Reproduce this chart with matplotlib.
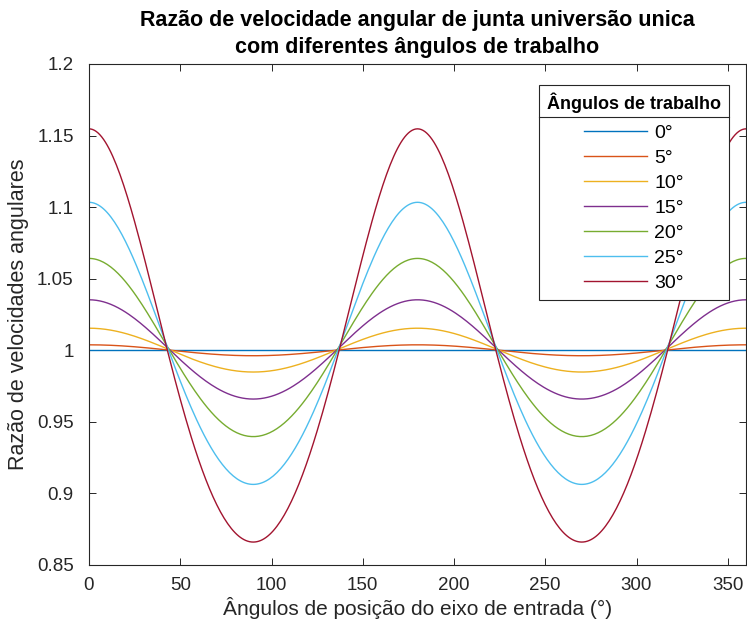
import matplotlib.pyplot as plt
from matplotlib.lines import Line2D
import numpy as np

plt.rcParams['font.family'] = ['Liberation Sans', 'DejaVu Sans']

# working angles (deg) shown in the legend
work_angles = [0, 5, 10, 15, 20, 25, 30]
labels = ['0°', '5°', '10°', '15°', '20°', '25°', '30°']
colors = ['#0072BD', '#D95319', '#EDB120', '#7E2F8E', '#77AC30', '#4DBEEE', '#A2142F']

xticks = [0, 50, 100, 150, 200, 250, 300, 350]
yticks = [0.85, 0.9, 0.95, 1.0, 1.05, 1.1, 1.15, 1.2]
ytick_labels = ['0.85', '0.9', '0.95', '1', '1.05', '1.1', '1.15', '1.2']

# input shaft position (deg)
theta = np.arange(0, 361, 1)

fig = plt.figure(figsize=(7.47, 6.32), dpi=100)
ax = fig.add_axes([89 / 747, 1 - 565 / 632, (746 - 89) / 747, (565 - 64) / 632])

for b, lab, c in zip(work_angles, labels, colors):
    br = np.radians(b)
    tr = np.radians(theta)
    # Cardan joint velocity ratio
    ratio = np.cos(br) / (1 - np.sin(br) ** 2 * np.cos(tr) ** 2)
    ax.plot(theta, ratio, color=c, lw=1.0, label=lab)

ax.set_xlim(0, 360)
ax.set_ylim(0.85, 1.2)
ax.set_xticks(xticks)
ax.set_yticks(yticks)
ax.set_yticklabels(ytick_labels)
ax.tick_params(direction='in', top=True, right=True, length=5, width=0.7,
               labelsize=13.5, colors='#262626')
ax.tick_params(axis='y', pad=11)
ax.tick_params(axis='x', pad=9)
for s in ax.spines.values():
    s.set_color('#262626')
    s.set_linewidth(0.8)

ax.set_xlabel('Ângulos de posição do eixo de entrada (°)', fontsize=15, color='#262626', labelpad=2)
ax.set_ylabel('Razão de velocidades angulares', fontsize=15.5, color='#262626', labelpad=6)
ax.set_title('Razão de velocidade angular de junta universão unica\ncom diferentes ângulos de trabalho',
             fontsize=15.5, fontweight='bold', color='black', pad=8, linespacing=1.35)

# legend
handles = [Line2D([0], [0], color=c, lw=1.0) for c in colors]
leg = ax.legend(handles, labels, loc='upper right', bbox_to_anchor=(729 / 747, (632 - 85) / 632),
                bbox_transform=fig.transFigure, borderaxespad=0, fontsize=14, frameon=True,
                fancybox=False, edgecolor='#262626', handlelength=3.2, handletextpad=0.4,
                borderpad=0.4, labelspacing=0.38, title='Ângulos de trabalho',
                title_fontproperties={'weight': 'bold', 'size': 13})
leg.get_frame().set_linewidth(0.8)
leg.get_frame().set_alpha(1)
leg._legend_box.align = 'center'
leg._legend_box.sep = 8

fig.canvas.draw()
bb = leg.get_window_extent().transformed(fig.transFigure.inverted())
tb = leg.get_title().get_window_extent().transformed(fig.transFigure.inverted())
ysep = tb.y0 - 0.006
fig.add_artist(Line2D([bb.x0, bb.x1], [ysep, ysep], transform=fig.transFigure,
                      color='#262626', lw=0.8))

fig.savefig('out.png', dpi=100)
